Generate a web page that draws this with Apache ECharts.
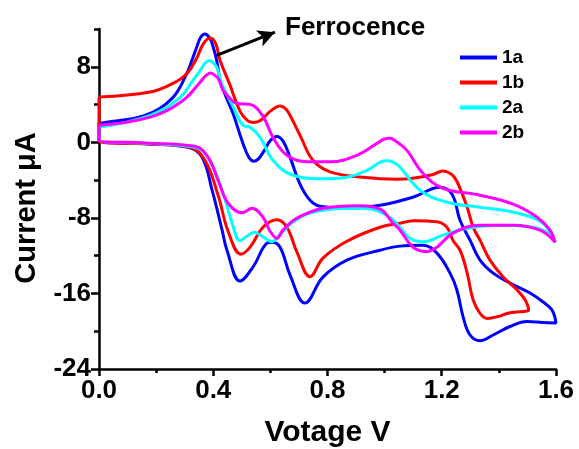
<!DOCTYPE html>
<html>
<head>
<meta charset="utf-8">
<script src="https://cdn.jsdelivr.net/npm/echarts@6/dist/echarts.min.js"></script>
<style>
html,body{margin:0;padding:0;background:#fff;}
#chart{width:579px;height:449px;}
</style>
</head>
<body>
<div id="chart"></div>
<script>
// Voltage (V), current (µA) pairs, each loop: forward sweep then reverse sweep
const s1a = [
  [0,2.01],[0.021,2.11],[0.161,2.85],[0.256,4.65],[0.307,7.26],[0.325,8.67],[0.342,10.07],[0.356,11.13],[0.371,11.47],
  [0.389,10.96],[0.400,10.07],[0.412,8.67],[0.427,6.24],[0.469,3.07],[0.504,-0.11],[0.525,-1.60],[0.543,-2.01],[0.560,-1.70],
  [0.578,-0.90],[0.600,0.20],[0.623,0.63],[0.645,0.10],[0.669,-1.59],[0.704,-4.44],
  [0.739,-6.13],[0.774,-6.77],[0.868,-6.98],[0.984,-6.66],[1.099,-5.81],[1.194,-4.76],[1.236,-5.50],[1.264,-8.25],
  [1.299,-10.36],[1.334,-12.47],[1.380,-13.85],[1.439,-14.90],[1.509,-15.96],[1.555,-16.91],[1.586,-17.76],[1.600,-19.13],
  [1.555,-19.08],[1.499,-18.97],[1.439,-19.50],[1.380,-20.40],[1.334,-21.00],[1.299,-20.40],[1.275,-18.50],[1.253,-15.64],
  [1.229,-13.85],[1.183,-11.73],[1.134,-10.89],[1.054,-10.99],[0.984,-11.42],[0.868,-12.47],[0.784,-14.27],[0.721,-17.02],
  [0.669,-14.06],[0.634,-11.10],[0.606,-10.57],[0.588,-10.68],[0.539,-13.21],[0.494,-14.69],[0.448,-11.42],[0.431,-9.30],
  [0.396,-5.07],[0.361,-1.59],[0.312,-0.53],[0.161,-0.16],[0,0.21],[0,2.01]
];
const s1b = [
  [0,4.79],[0.179,5.32],[0.259,6.24],[0.308,7.29],[0.342,8.90],[0.365,10.43],[0.389,11.05],[0.408,10.50],[0.424,8.67],[0.459,6.03],
  [0.494,3.28],[0.520,2.30],[0.539,2.11],[0.565,2.30],[0.600,3.30],[0.634,3.86],[0.655,3.50],[0.675,2.50],[0.704,0.74],[0.749,-1.90],[0.809,-3.12],
  [0.924,-3.70],[1.043,-3.91],[1.099,-3.81],[1.170,-3.40],[1.204,-3.03],[1.235,-3.40],[1.253,-4.12],[1.289,-6.87],[1.310,-8.99],[1.334,-10.36],
  [1.369,-12.47],[1.415,-14.27],[1.464,-15.64],[1.492,-16.70],[1.504,-17.76],
  [1.499,-17.86],[1.439,-18.04],[1.394,-18.47],[1.359,-18.64],[1.334,-18.11],[1.310,-16.70],[1.289,-13.85],[1.264,-11.42],
  [1.239,-10.36],[1.218,-8.99],[1.183,-8.42],[1.106,-8.30],[1.054,-8.56],[0.984,-8.99],[0.868,-10.47],[0.784,-12.26],
  [0.739,-14.22],[0.693,-11.63],[0.658,-8.99],[0.623,-8.19],[0.574,-8.99],[0.529,-11.10],[0.497,-11.84],[0.452,-9.41],
  [0.417,-5.60],[0.371,-1.90],[0.319,-0.53],[0.161,-0.16],[0,0.11],[0,4.79]
];
const s2a = [
  [0,1.59],[0.179,2.85],[0.284,4.76],[0.330,6.60],[0.354,7.61],[0.372,8.40],[0.386,8.67],[0.400,8.40],[0.412,7.96],[0.430,6.20],[0.469,3.81],[0.504,1.80],
  [0.529,1.59],[0.564,0.53],[0.609,-1.90],[0.679,-3.49],[0.784,-3.86],[0.868,-3.70],[0.938,-2.96],[0.985,-2.10],[1.008,-1.96],
  [1.030,-2.10],[1.054,-2.64],[1.124,-5.07],[1.218,-6.34],[1.334,-6.87],[1.450,-7.40],[1.544,-8.35],[1.590,-9.94],
  [1.520,-8.99],[1.404,-8.77],[1.289,-9.09],[1.204,-9.83],[1.134,-10.52],[1.089,-10.15],[1.054,-8.99],[1.008,-7.72],
  [0.924,-6.98],[0.809,-7.08],[0.728,-7.61],[0.669,-8.67],[0.623,-10.15],[0.606,-10.52],[0.571,-9.94],[0.543,-9.51],
  [0.518,-9.94],[0.494,-10.41],[0.466,-8.56],[0.431,-5.07],[0.382,-1.59],[0.336,-0.53],[0.161,-0.11],[0,0.26],[0,1.59]
];
const s2b = [
  [0,1.80],[0.179,2.67],[0.294,4.44],[0.354,6.37],[0.375,7.10],[0.391,7.33],[0.405,7.10],[0.418,6.73],[0.435,5.50],[0.460,4.60],[0.483,4.12],[0.529,4.02],
  [0.574,2.75],[0.609,0.53],[0.658,-1.37],[0.728,-2.06],[0.809,-2.06],[0.903,-1.37],[0.973,-0.11],[1.000,0.35],[1.019,0.42],
  [1.040,0.10],[1.078,-0.85],[1.134,-3.28],[1.204,-4.86],[1.334,-5.60],[1.450,-6.55],[1.534,-7.93],[1.579,-9.30],[1.597,-10.57],
  [1.544,-9.30],[1.450,-8.77],[1.334,-8.77],[1.239,-9.62],[1.183,-11.10],[1.145,-11.57],[1.099,-11.10],[1.054,-9.30],
  [1.029,-8.56],[0.984,-7.08],[0.903,-6.71],[0.784,-6.98],[0.693,-8.03],[0.644,-9.30],[0.623,-10.15],[0.599,-9.41],
  [0.574,-7.93],[0.536,-6.98],[0.501,-7.45],[0.452,-6.45],[0.417,-4.02],[0.382,-1.59],[0.336,-0.42],[0.161,-0.07],[0,0.21],[0,1.80]
];
const seriesNames = ['1a','1b','2a','2b'];
const seriesData = [s1a, s1b, s2a, s2b];
const seriesColors = ['#0000FF','#FF0000','#00FFFF','#FF00FF'];
const yMajorTicks = [-24,-16,-8,0,8];
const yMinorTicks = [-20,-12,-4,4,12];
const arrowTail = [0.412, 9.20];
const arrowHead = [0.616, 11.66];
const annotationText = 'Ferrocence';

const FONT = "'Liberation Sans', Arial, sans-serif";
const chart = echarts.init(document.getElementById('chart'), null, {renderer:'canvas'});

const series = seriesNames.map((n, i) => ({
  name: n,
  type: 'line',
  data: seriesData[i],
  smooth: 0.4,
  symbol: 'none',
  showSymbol: false,
  clip: false,
  lineStyle: {color: seriesColors[i], width: 3},
  itemStyle: {color: seriesColors[i]},
  emphasis: {disabled: true},
  z: 2 + i
}));
series[0].markLine = {
  silent: true,
  symbol: ['none', 'arrow'],
  symbolSize: [13, 17],
  label: {show: false},
  lineStyle: {color: '#000', width: 3, type: 'solid'},
  emphasis: {disabled: true},
  data: [[{coord: arrowTail}, {coord: arrowHead}]]
};

chart.setOption({
  animation: false,
  backgroundColor: '#fff',
  grid: {left: 99, right: 23, top: 29, bottom: 80, containLabel: false, outerBoundsMode: 'none'},
  legend: {
    orient: 'vertical',
    left: 460, top: 48, padding: 0,
    itemWidth: 37, itemHeight: 4, itemGap: 6,
    icon: 'rect',
    data: seriesNames,
    textStyle: {fontFamily: FONT, fontWeight: 'bold', fontSize: 19, color: '#000'},
    selectedMode: false
  },
  xAxis: {
    type: 'value', min: 0, max: 1.6, interval: 0.4,
    name: 'Votage V', nameLocation: 'middle', nameGap: 49,
    nameTextStyle: {fontFamily: FONT, fontWeight: 'bold', fontSize: 30, color: '#000'},
    axisLine: {show: true, onZero: false, lineStyle: {color: '#000', width: 2.5}},
    axisTick: {show: true, inside: false, length: 7, lineStyle: {color: '#000', width: 2.5}},
    minorTick: {show: true, splitNumber: 2, length: 4, lineStyle: {color: '#000', width: 2.5}},
    axisLabel: {fontFamily: FONT, fontWeight: 'bold', fontSize: 26, color: '#000', margin: 9,
      formatter: v => v.toFixed(1)},
    splitLine: {show: false}
  },
  yAxis: [{
    type: 'value', min: -24, max: 12, interval: 4,
    name: 'Current μA', nameLocation: 'middle', nameGap: 58, nameRotate: 90,
    nameTextStyle: {fontFamily: FONT, fontWeight: 'bold', fontSize: 29, color: '#000', padding: [0, 18, 0, 0]},
    axisLine: {show: true, onZero: false, lineStyle: {color: '#000', width: 2.5}},
    axisTick: {show: true, inside: false, length: 8, customValues: yMajorTicks, lineStyle: {color: '#000', width: 2.5}},
    axisLabel: {fontFamily: FONT, fontWeight: 'bold', fontSize: 26, color: '#000', margin: 8, customValues: yMajorTicks},
    splitLine: {show: false}
  }, {
    type: 'value', min: -24, max: 12, interval: 4, position: 'left', offset: 0,
    axisLine: {show: false},
    axisTick: {show: true, inside: false, length: 5, customValues: yMinorTicks, lineStyle: {color: '#000', width: 2.5}},
    axisLabel: {show: false},
    splitLine: {show: false}
  }],
  graphic: [{
    type: 'text', left: 285, top: 15, silent: true,
    style: {text: annotationText, fontFamily: FONT, fontWeight: 'bold', fontSize: 26, fill: '#000'}
  }],
  series: series
});
</script>
</body>
</html>
